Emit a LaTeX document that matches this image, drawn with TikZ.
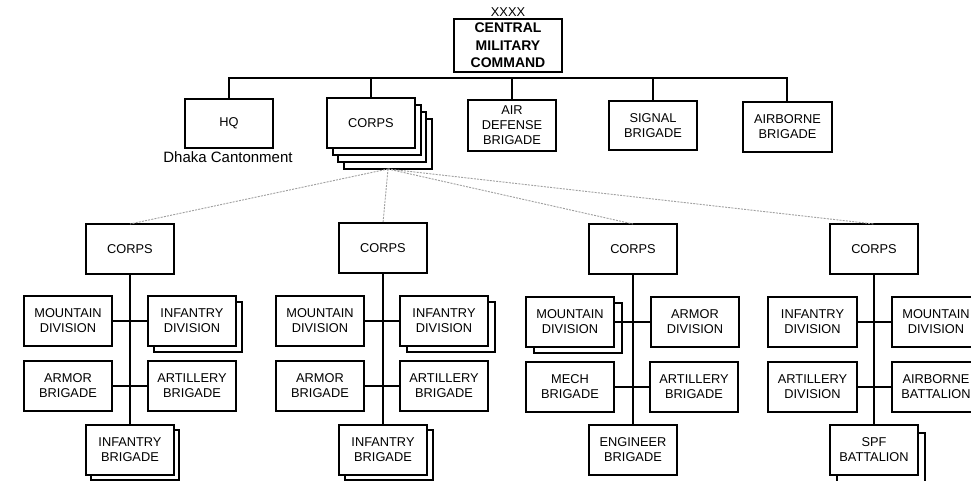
\documentclass[tikz,border=0pt]{standalone}
\usepackage{fontspec}
\setmainfont{Liberation Sans}
\usetikzlibrary{shadows}
\begin{document}
\begin{tikzpicture}[x=1pt,y=-1pt,
  box/.style={draw=black, line width=1.6pt, fill=white, minimum width=88pt, minimum height=50pt,
    inner sep=0pt, outer sep=0pt, align=center, font=\fontsize{12.8}{15}\selectfont},
  link/.style={line width=1.6pt},
  dotlink/.style={draw=gray!75, line width=0.9pt, dash pattern=on 2pt off 1.2pt},
  plain/.style={inner sep=0pt, font=\fontsize{12.8}{15}\selectfont}
]
\fill[white] (0,0) rectangle (971,481);
\useasboundingbox (0,0) rectangle (971,481);

% top level
\node[plain] (xx) at (508,12) {XXXX};
\node[box, minimum width=108pt, minimum height=53pt, font=\bfseries\fontsize{14}{17.5}\selectfont] (cmc) at (508,45.5) {CENTRAL\\MILITARY\\COMMAND};

\node[box, minimum height=49pt] (hq) at (229,123.5) {HQ};
\node[plain, font=\fontsize{15}{17}\selectfont] (dhaka) at (228,157) {Dhaka Cantonment};
\node[box, copy shadow={shadow xshift=17pt,shadow yshift=-21pt},
           copy shadow={shadow xshift=11pt,shadow yshift=-14pt},
           copy shadow={shadow xshift=6pt,shadow yshift=-7pt}] (corps) at (371,123) {CORPS};
\node[box, minimum height=51pt] (ad) at (512,125.5) {AIR\\DEFENSE\\BRIGADE};
\node[box, minimum height=49pt] (sig) at (653,125.5) {SIGNAL\\BRIGADE};
\node[box, minimum width=89pt] (abn) at (787.5,127) {AIRBORNE\\BRIGADE};

\coordinate (busL) at (229,78);
\coordinate (busR) at (787,78);
\draw[link] (hq.north) -- (busL) -- (busR) -- (busR |- abn.north);
\draw[link] (corps.north) -- (corps.north |- busL);
\draw[link] (ad.north) -- (ad.north |- busL);
\draw[link] (sig.north) -- (sig.north |- busL);

\coordinate (cbot) at ([shift={(17pt,-21pt)}]corps.south);

% second level corps
\node[box] (c1) at (130,249) {CORPS};
\node[box] (c2) at (383,248) {CORPS};
\node[box] (c3) at (633,249) {CORPS};
\node[box] (c4) at (874,249) {CORPS};
\foreach \c in {c1,c2,c3,c4} \draw[dotlink] (cbot) -- (\c.north);

% corps 1
\node[box] (c1md) at (68,321) {MOUNTAIN\\DIVISION};
\node[box, copy shadow={shadow xshift=6pt,shadow yshift=-6pt}] (c1id) at (192,321) {INFANTRY\\DIVISION};
\node[box] (c1ab) at (68,386) {ARMOR\\BRIGADE};
\node[box] (c1art) at (192,386) {ARTILLERY\\BRIGADE};
\node[box, copy shadow={shadow xshift=5pt,shadow yshift=-5pt}] (c1ib) at (130,450) {INFANTRY\\BRIGADE};
\draw[link] (c1.south) -- (c1ib.north);
\draw[link] (c1md.east) -- (c1id.west);
\draw[link] (c1ab.east) -- (c1art.west);

% corps 2
\node[box] (c2md) at (320,321) {MOUNTAIN\\DIVISION};
\node[box, copy shadow={shadow xshift=7pt,shadow yshift=-6pt}] (c2id) at (444,321) {INFANTRY\\DIVISION};
\node[box] (c2ab) at (320,386) {ARMOR\\BRIGADE};
\node[box] (c2art) at (444,386) {ARTILLERY\\BRIGADE};
\node[box, copy shadow={shadow xshift=6pt,shadow yshift=-5pt}] (c2ib) at (383,450) {INFANTRY\\BRIGADE};
\draw[link] (c2.south) -- (c2ib.north);
\draw[link] (c2md.east) -- (c2id.west);
\draw[link] (c2ab.east) -- (c2art.west);

% corps 3
\node[box, copy shadow={shadow xshift=8pt,shadow yshift=-6pt}] (c3md) at (570,322) {MOUNTAIN\\DIVISION};
\node[box] (c3ad) at (695,322) {ARMOR\\DIVISION};
\node[box] (c3mb) at (570,387) {MECH\\BRIGADE};
\node[box] (c3art) at (694,387) {ARTILLERY\\BRIGADE};
\node[box] (c3eb) at (633,450) {ENGINEER\\BRIGADE};
\draw[link] (c3.south) -- (c3eb.north);
\draw[link] (c3md.east) -- (c3ad.west);
\draw[link] (c3mb.east) -- (c3art.west);

% corps 4
\node[box, minimum width=89pt] (c4id) at (812.5,322) {INFANTRY\\DIVISION};
\node[box] (c4md) at (936,322) {MOUNTAIN\\DIVISION};
\node[box, minimum width=89pt] (c4ad) at (812.5,387) {ARTILLERY\\DIVISION};
\node[box] (c4ab) at (936,387) {AIRBORNE\\BATTALION};
\node[box, copy shadow={shadow xshift=7pt,shadow yshift=-8pt}] (c4spf) at (874,450) {SPF\\BATTALION};
\draw[link] (c4.south) -- (c4spf.north);
\draw[link] (c4id.east) -- (c4md.west);
\draw[link] (c4ad.east) -- (c4ab.west);
\end{tikzpicture}
\end{document}
